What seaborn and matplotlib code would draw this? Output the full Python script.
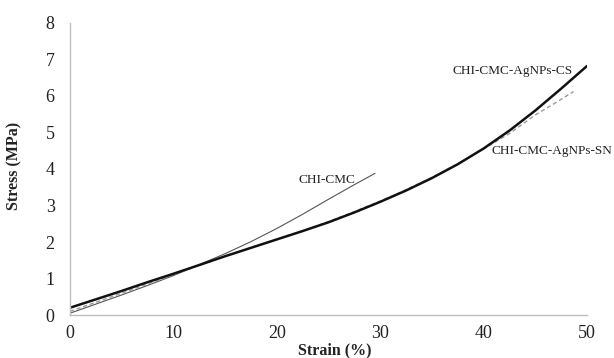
import matplotlib
matplotlib.use("Agg")
import matplotlib.pyplot as plt
import seaborn as sns

# Data
cs_strain = [0, 2.5, 5, 7.5, 10, 12.5, 15, 17.5, 20, 22.5, 25, 27.5, 30, 32.5, 35, 37.5, 40, 42.5, 45, 47.5, 50]
cs_stress = [0.20, 0.43, 0.66, 0.90, 1.13, 1.37, 1.61, 1.84, 2.07, 2.30, 2.54, 2.81, 3.10, 3.41, 3.75, 4.13, 4.56, 5.05, 5.60, 6.20, 6.82]

sn_strain = [0, 2.5, 5, 7.5, 10, 12.5, 15, 17.5, 20, 22.5, 25, 27.5, 30, 32.5, 35, 37.5, 40, 42.5, 45, 47, 48.7]
sn_stress = [0.10, 0.35, 0.60, 0.85, 1.10, 1.36, 1.61, 1.85, 2.08, 2.31, 2.56, 2.83, 3.12, 3.43, 3.77, 4.14, 4.55, 4.97, 5.48, 5.82, 6.12]

cmc_strain = [0, 2.5, 5, 7.5, 10, 12.5, 15, 17.5, 20, 22.5, 25, 27.5, 29.5]
cmc_stress = [0.05, 0.30, 0.55, 0.81, 1.08, 1.38, 1.68, 2.01, 2.37, 2.76, 3.17, 3.57, 3.88]

x_ticks = [0, 10, 20, 30, 40, 50]
y_ticks = [0, 1, 2, 3, 4, 5, 6, 7, 8]

sns.set_theme(style="white")
plt.rcParams['font.family'] = ['Liberation Serif', 'DejaVu Serif']

fig = plt.figure(figsize=(6.14, 3.58), dpi=100)
ax = fig.add_axes([0.114, 0.120, 0.842, 0.816])

sns.lineplot(x=cmc_strain, y=cmc_stress, ax=ax, color="#555555", linewidth=0.8)
sns.lineplot(x=sn_strain, y=sn_stress, ax=ax, color="#9a9a9a", linewidth=1.0, linestyle=(0, (3, 2)))
sns.lineplot(x=cs_strain, y=cs_stress, ax=ax, color="#111111", linewidth=1.8)

ax.set_xlim(0, 50)
ax.set_ylim(0, 8)
ax.set_xticks(x_ticks)
ax.set_yticks(y_ticks)
ax.tick_params(axis='both', length=0, labelsize=13, colors="#222222")
ax.tick_params(axis='x', pad=7)
ax.tick_params(axis='y', pad=11)

for side in ["top", "right"]:
    ax.spines[side].set_visible(False)
for side in ["left", "bottom"]:
    ax.spines[side].set_color("#bdbdbd")
    ax.spines[side].set_linewidth(1.0)

ax.set_xlabel("Strain (%)", fontsize=11.5, fontweight="bold", color="#222222")
ax.set_ylabel("Stress (MPa)", fontsize=11.5, fontweight="bold", color="#222222")
ax.xaxis.set_label_coords(0.513, -0.093)
ax.yaxis.set_label_coords(-0.093, 0.51)

ax.text(37.0, 6.68, "CHI-CMC-AgNPs-CS", fontsize=9.5, va="center", ha="left", color="#222222")
ax.text(40.8, 4.49, "CHI-CMC-AgNPs-SN", fontsize=9.5, va="center", ha="left", color="#222222", clip_on=False)
ax.text(22.1, 3.70, "CHI-CMC", fontsize=9.5, va="center", ha="left", color="#222222")

fig.savefig("out.png", dpi=100)
